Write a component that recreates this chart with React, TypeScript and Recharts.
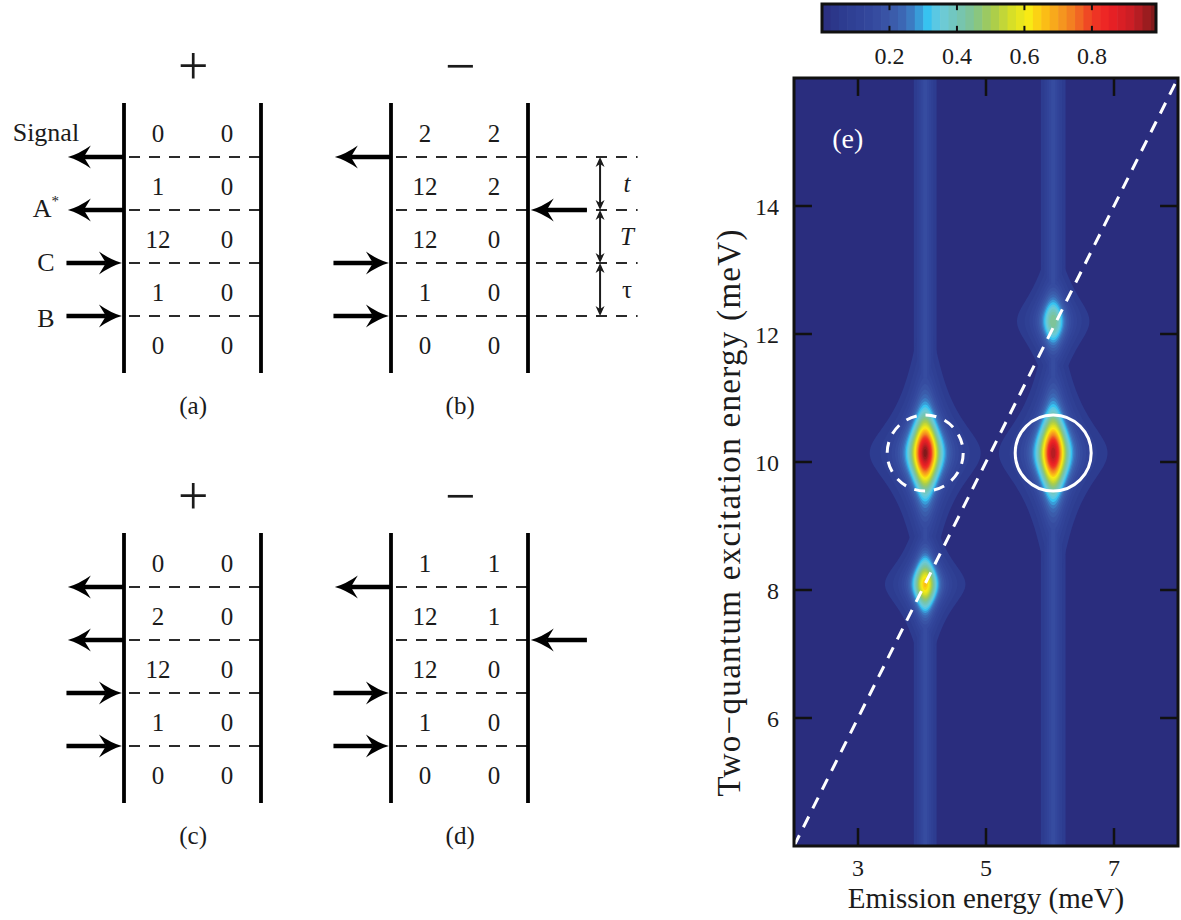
import React from "react";
import {
  ReferenceArea,
  ReferenceLine,
  Scatter,
  ScatterChart,
  XAxis,
  YAxis,
} from "recharts";

const SERIF = '"Liberation Serif", "Times New Roman", serif';
const INK = "#1b1b1b";

/* ---------- panel (e): two-quantum spectrum ---------- */

const EMISSION_TICKS = [3, 5, 7];
const EXCITATION_TICKS = [6, 8, 10, 12, 14];
const COLORBAR_TICKS = [0.2, 0.4, 0.6, 0.8];

// peaks: centre (meV), height on the colour scale, half widths (meV)
const PEAK_X = [4.05, 6.05, 4.05, 6.05];
const PEAK_Y = [10.14, 10.14, 8.09, 12.2];
const PEAK_AMP = [0.99, 0.95, 0.66, 0.45];
const PEAK_WX = [0.2, 0.2, 0.18, 0.2];
const PEAK_WY = [0.5, 0.52, 0.38, 0.42];

// faint streaks running the full height along both emission lines
const STREAK_X = [4.05, 6.05];
const STREAK_AMP = [0.16, 0.16];
const STREAK_WX = [0.12, 0.13];

// colour scale
const CMAP_AT = [0, 0.05, 0.15, 0.2, 0.25, 0.28, 0.31, 0.35, 0.4, 0.45, 0.5, 0.56, 0.61, 0.65, 0.7, 0.75, 0.8, 0.85, 0.92, 0.99];
const CMAP_HEX = [
  "#2a2d7e", "#2c3a8e", "#34499e", "#3a56a7", "#3d6db8", "#3b8fd0", "#34c1f1", "#6bcbdd",
  "#73c5b8", "#82c48e", "#a3ca53", "#d5de28", "#f8ec15", "#fcc614", "#f6a01e", "#f27522",
  "#ee3a24", "#ec2125", "#c81e25", "#7e1a1b",
];

const LEVEL_STEP = 0.025;
const BAR_STEPS = Array.from({ length: 40 }, (_, i) => +(LEVEL_STEP * i).toFixed(3));
const LEVELS = BAR_STEPS.filter((l) => l >= 0.05);

// plot boxes in px
const PLOT_W = 384;
const PLOT_H = 768;
const PX_X = PLOT_W / 6;
const PX_Y = PLOT_H / 12;
const TICK = 0.28;
const BAR_W = 334;
const BAR_H = 28;
const BAR_MAX = 0.99;

function hex(h: string) {
  const n = parseInt(h.slice(1), 16);
  return [(n >> 16) & 255, (n >> 8) & 255, n & 255];
}

function colorAt(v: number) {
  const i = CMAP_AT.findIndex((p) => p >= v);
  if (i === 0) return CMAP_HEX[0];
  if (i < 0) return CMAP_HEX[CMAP_HEX.length - 1];
  const t = (v - CMAP_AT[i - 1]) / (CMAP_AT[i] - CMAP_AT[i - 1]);
  const a = hex(CMAP_HEX[i - 1]);
  const b = hex(CMAP_HEX[i]);
  const c = a.map((x, k) => Math.round(x + (b[k] - x) * t));
  return `rgb(${c[0]},${c[1]},${c[2]})`;
}

// filled contour layers, lowest level first so higher ones sit on top
const layers: any[] = [{ x: 5, y: 10, kind: "bg", level: 0 }];
LEVELS.forEach((level) => {
  STREAK_X.forEach((x, i) => {
    if (STREAK_AMP[i] > level)
      layers.push({ x, y: 10, kind: "streak", level, amp: STREAK_AMP[i], wx: STREAK_WX[i] });
  });
  PEAK_X.forEach((x, i) => {
    if (PEAK_AMP[i] > level)
      layers.push({
        x,
        y: PEAK_Y[i],
        kind: "peak",
        level,
        amp: PEAK_AMP[i],
        wx: PEAK_WX[i],
        wy: PEAK_WY[i],
      });
  });
});

const marks = [
  { x: PEAK_X[0], y: PEAK_Y[0], kind: "dashed" },
  { x: PEAK_X[1], y: PEAK_Y[1], kind: "solid" },
  { x: 2.84, y: 15.03, kind: "tag" },
];
const diagonal = [
  { x: 2, y: 4 },
  { x: 8, y: 16 },
];
const barCells = BAR_STEPS.map((s) => ({ x: s, y: 0.5, level: s }));

function ContourShape(props: any) {
  const { cx, cy, payload: p } = props;
  if (p.kind === "bg")
    return <rect x={cx - PLOT_W / 2} y={cy - PLOT_H / 2} width={PLOT_W} height={PLOT_H} fill={CMAP_HEX[0]} />;
  const fill = colorAt(p.level + LEVEL_STEP / 2);
  if (p.kind === "streak") {
    const half = p.wx * Math.sqrt(p.amp / p.level - 1) * PX_X;
    return <rect x={cx - half} y={cy - PLOT_H / 2} width={2 * half} height={PLOT_H} fill={fill} />;
  }
  const r = p.amp / p.level;
  const umax = Math.sqrt(r - 1);
  const gx = p.wx * PX_X;
  const gy = p.wy * PX_Y;
  const q: [number, number][] = [];
  const n = 40;
  for (let i = 0; i <= n; i++) {
    const u = umax * Math.sin((Math.PI / 2) * (i / n));
    const v = Math.sqrt(Math.max(0, r / (1 + u * u) - 1));
    q.push([u * gx, v * gy]);
  }
  const pts = [
    ...q.map(([u, v]) => [u, -v]),
    ...[...q].reverse().map(([u, v]) => [u, v]),
    ...q.map(([u, v]) => [-u, v]),
    ...[...q].reverse().map(([u, v]) => [-u, -v]),
  ];
  const d = "M" + pts.map(([u, v]) => `${(cx + u).toFixed(2)},${(cy + v).toFixed(2)}`).join("L") + "Z";
  return <path d={d} fill={fill} />;
}

function BarCell(props: any) {
  const { cx, cy, payload } = props;
  const w = (Math.min(BAR_MAX, payload.level + LEVEL_STEP) - payload.level) * (BAR_W / BAR_MAX);
  return (
    <rect
      x={cx}
      y={cy - BAR_H / 2}
      width={w + 0.6}
      height={BAR_H}
      fill={colorAt(payload.level + LEVEL_STEP / 2)}
    />
  );
}

function MarkShape(props: any) {
  const { cx, cy, payload } = props;
  if (payload.kind === "tag")
    return (
      <text x={cx} y={cy} dy="0.27em" textAnchor="middle" fontFamily={SERIF} fontSize={28} fill="#fff">
        (e)
      </text>
    );
  return (
    <circle
      cx={cx}
      cy={cy}
      r={38}
      fill="none"
      stroke="#fff"
      strokeWidth={3}
      strokeDasharray={payload.kind === "dashed" ? "11 8.9" : undefined}
    />
  );
}

const axisTick = { fontFamily: SERIF, fontSize: 24, fill: INK };

function Spectrum() {
  return (
    <ScatterChart width={481} height={920} margin={{ top: 78, right: 3, bottom: 0, left: 0 }}>
      <XAxis
        type="number"
        dataKey="x"
        domain={[2, 8]}
        ticks={EMISSION_TICKS}
        allowDataOverflow
        height={74}
        axisLine={false}
        tickLine={false}
        tickSize={0}
        tickMargin={13}
        tick={axisTick}
      />
      <YAxis
        type="number"
        dataKey="y"
        domain={[4, 16]}
        ticks={EXCITATION_TICKS}
        allowDataOverflow
        width={94}
        axisLine={false}
        tickLine={false}
        tickSize={0}
        tickMargin={15}
        tick={axisTick}
      />
      <Scatter data={layers} shape={ContourShape} isAnimationActive={false} />
      <Scatter
        data={diagonal}
        shape={() => <g />}
        line={{ stroke: "#fff", strokeWidth: 3, strokeDasharray: "12 9" }}
        isAnimationActive={false}
      />
      <Scatter data={marks} shape={MarkShape} isAnimationActive={false} />
      <ReferenceArea x1={2} x2={8} y1={4} y2={16} fill="none" stroke="#111" strokeWidth={3} ifOverflow="visible" zIndex={900} />
      {EMISSION_TICKS.map((t) => (
        <ReferenceLine key={"b" + t} segment={[{ x: t, y: 4 }, { x: t, y: 4 + TICK }]} stroke="#111" strokeWidth={2.5} zIndex={900} />
      ))}
      {EMISSION_TICKS.map((t) => (
        <ReferenceLine key={"t" + t} segment={[{ x: t, y: 16 }, { x: t, y: 16 - TICK }]} stroke="#111" strokeWidth={2.5} zIndex={900} />
      ))}
      {EXCITATION_TICKS.map((t) => (
        <ReferenceLine key={"l" + t} segment={[{ x: 2, y: t }, { x: 2 + TICK, y: t }]} stroke="#111" strokeWidth={2.5} zIndex={900} />
      ))}
      {EXCITATION_TICKS.map((t) => (
        <ReferenceLine key={"r" + t} segment={[{ x: 8, y: t }, { x: 8 - TICK, y: t }]} stroke="#111" strokeWidth={2.5} zIndex={900} />
      ))}
    </ScatterChart>
  );
}

function ColorBar() {
  return (
    <ScatterChart width={360} height={75} margin={{ top: 4, right: 14, bottom: 0, left: 12 }}>
      <XAxis
        type="number"
        dataKey="x"
        domain={[0, BAR_MAX]}
        ticks={COLORBAR_TICKS}
        allowDataOverflow
        height={43}
        axisLine={false}
        tickLine={false}
        tickSize={0}
        tickMargin={15}
        tick={axisTick}
      />
      <YAxis type="number" dataKey="y" domain={[0, 1]} allowDataOverflow hide />
      <Scatter data={barCells} shape={BarCell} isAnimationActive={false} />
      <ReferenceArea x1={0} x2={BAR_MAX} y1={0} y2={1} fill="none" stroke="#111" strokeWidth={3} ifOverflow="visible" zIndex={900} />
      {COLORBAR_TICKS.map((t) => (
        <ReferenceLine key={"b" + t} segment={[{ x: t, y: 0 }, { x: t, y: 0.22 }]} stroke="#111" strokeWidth={2} zIndex={900} />
      ))}
      {COLORBAR_TICKS.map((t) => (
        <ReferenceLine key={"t" + t} segment={[{ x: t, y: 1 }, { x: t, y: 0.78 }]} stroke="#111" strokeWidth={2} zIndex={900} />
      ))}
    </ScatterChart>
  );
}

/* ---------- panels (a)-(d): double-sided diagrams ---------- */

// occupation (ket, bra) between interactions, top row first
const ROWS_A = [["0", "0"], ["1", "0"], ["12", "0"], ["1", "0"], ["0", "0"]];
const ROWS_B = [["2", "2"], ["12", "2"], ["12", "0"], ["1", "0"], ["0", "0"]];
const ROWS_C = [["0", "0"], ["2", "0"], ["12", "0"], ["1", "0"], ["0", "0"]];
const ROWS_D = [["1", "1"], ["12", "1"], ["12", "0"], ["1", "0"], ["0", "0"]];
// field interaction on each dashed line, top first
const ARROWS_PLUS = ["out", "out", "in", "in"];
const ARROWS_MINUS = ["out", "braIn", "in", "in"];
const FIELD_LABELS = ["Signal", "A*", "C", "B"];
const FIELD_LABEL_Y = [4.47, 3.03, 2.01, 0.95];
const DELAY_LABELS = ["t", "T", "τ"];

const DIAG_H = 430;
const LINE0_PX = 124;
const UNIT_X = 137;
const ROW_PX = 53;
const BASE_PX = 316;
const Y_MIN = 1 - (DIAG_H - BASE_PX) / ROW_PX;
const Y_MAX = 1 + BASE_PX / ROW_PX;

const ARROW_GEOM: Record<string, { tip: number; from: number }> = {
  out: { tip: -0.41, from: 0 },
  in: { tip: -0.015, from: -0.42 },
  braIn: { tip: 1.02, from: 1.43 },
};

function TextShape(props: any) {
  const { cx, cy, payload: p } = props;
  const size = p.kind === "sign" ? 54 : p.kind === "label" ? 26 : p.kind === "tag" ? 25 : 25;
  const dy = p.kind === "num" ? "0.44em" : p.kind === "label" ? "0.33em" : "0.26em";
  if (p.text === "A*")
    return (
      <text x={cx} y={cy} dy={dy} textAnchor="middle" fontFamily={SERIF} fontSize={size} fill={INK}>
        A<tspan fontSize={15} dy={-11}>*</tspan>
      </text>
    );
  return (
    <text x={cx} y={cy} dy={dy} textAnchor="middle" fontFamily={SERIF} fontSize={size} fill={INK}>
      {p.text}
    </text>
  );
}

function ArrowShape(props: any) {
  const { cx, cy, payload: p } = props;
  const s = p.from > p.x ? 1 : -1;
  const tail = cx + (p.from - p.x) * UNIT_X;
  const head = 23;
  const half = 11.5;
  const notch = 16;
  const d =
    `M${cx},${cy} Q${cx + s * 11},${cy - 3} ${cx + s * head},${cy - half} ` +
    `L${cx + s * notch},${cy} L${cx + s * head},${cy + half} Q${cx + s * 11},${cy + 3} ${cx},${cy}Z`;
  return (
    <g>
      <line x1={cx + s * notch} y1={cy} x2={tail} y2={cy} stroke="#000" strokeWidth={4.5} />
      <path d={d} fill="#000" />
    </g>
  );
}

function SpanShape(props: any) {
  const { cx, cy, payload } = props;
  const top = cy - ROW_PX / 2;
  const bot = cy + ROW_PX / 2;
  return (
    <g>
      <line x1={cx} y1={top + 3} x2={cx} y2={bot - 3} stroke={INK} strokeWidth={2} />
      <path d={`M${cx},${top} L${cx - 4.5},${top + 10} L${cx},${top + 7} L${cx + 4.5},${top + 10}Z`} fill={INK} />
      <path d={`M${cx},${bot} L${cx - 4.5},${bot - 10} L${cx},${bot - 7} L${cx + 4.5},${bot - 10}Z`} fill={INK} />
      <text
        x={cx + 27}
        y={cy}
        dy="0.33em"
        textAnchor="middle"
        fontFamily={SERIF}
        fontSize={25}
        fontStyle={payload.text === "τ" ? "normal" : "italic"}
        fill={INK}
      >
        {payload.text}
      </text>
    </g>
  );
}

function Diagram({
  left,
  top,
  width,
  rows,
  arrows,
  sign,
  tag,
  withLabels,
  withDelays,
}: {
  left: number;
  top: number;
  width: number;
  rows: string[][];
  arrows: string[];
  sign: string;
  tag: string;
  withLabels?: boolean;
  withDelays?: boolean;
}) {
  const xMin = -LINE0_PX / UNIT_X;
  const xMax = (width - LINE0_PX) / UNIT_X;
  const dashEnd = withDelays ? 1.8 : 1;
  const lines = [4, 3, 2, 1];

  const texts: any[] = [];
  rows.forEach((r, i) => {
    texts.push({ x: 0.248, y: 4.5 - i, text: r[0], kind: "num" });
    texts.push({ x: 0.752, y: 4.5 - i, text: r[1], kind: "num" });
  });
  texts.push({ x: 0.505, y: 1 + (BASE_PX - 70) / ROW_PX, text: sign, kind: "sign" });
  texts.push({ x: 0.505, y: 1 - (407 - BASE_PX) / ROW_PX, text: tag, kind: "tag" });
  if (withLabels)
    FIELD_LABELS.forEach((t, i) => texts.push({ x: -0.57, y: FIELD_LABEL_Y[i], text: t, kind: "label" }));

  const arrowPts = arrows.map((a, i) => ({ x: ARROW_GEOM[a].tip, from: ARROW_GEOM[a].from, y: lines[i] }));
  const spans = withDelays ? DELAY_LABELS.map((t, i) => ({ x: 1.526, y: 3.5 - i, text: t })) : [];

  return (
    <div style={{ position: "absolute", left, top }}>
      <ScatterChart width={width} height={DIAG_H} margin={{ top: 0, right: 0, bottom: 0, left: 0 }}>
        <XAxis type="number" dataKey="x" domain={[xMin, xMax]} allowDataOverflow hide />
        <YAxis type="number" dataKey="y" domain={[Y_MIN, Y_MAX]} allowDataOverflow hide />
        {lines.map((k) => (
          <ReferenceLine
            key={"d" + k}
            segment={[{ x: 0, y: k }, { x: dashEnd, y: k }]}
            stroke="#2a2a2a"
            strokeWidth={2}
            strokeDasharray="11 9"
            strokeDashoffset={-5}
            ifOverflow="visible"
          />
        ))}
        <ReferenceLine segment={[{ x: 0, y: -0.075 }, { x: 0, y: 5.02 }]} stroke="#000" strokeWidth={3.8} ifOverflow="visible" />
        <ReferenceLine segment={[{ x: 1, y: -0.075 }, { x: 1, y: 5.02 }]} stroke="#000" strokeWidth={3.8} ifOverflow="visible" />
        <Scatter data={texts} shape={TextShape} isAnimationActive={false} />
        <Scatter data={arrowPts} shape={ArrowShape} isAnimationActive={false} />
        {withDelays && <Scatter data={spans} shape={SpanShape} isAnimationActive={false} />}
      </ScatterChart>
    </div>
  );
}

function AxisTitles() {
  return (
    <svg
      width={1181}
      height={920}
      style={{ position: "absolute", left: 0, top: 0, pointerEvents: "none" }}
    >
      <text x={986} y={908} textAnchor="middle" fontFamily={SERIF} fontSize={29} fill={INK}>
        Emission energy (meV)
      </text>
      <text
        x={729}
        y={513}
        transform="rotate(-90 729 513)"
        textAnchor="middle"
        dominantBaseline="central"
        fontFamily={SERIF}
        fontSize={33}
        fill={INK}
        textLength={567}
        lengthAdjust="spacing"
      >
        Two−quantum excitation energy (meV)
      </text>
    </svg>
  );
}

export default function App() {
  return (
    <div style={{ position: "absolute", left: 0, top: 0, width: 1181, height: 920, background: "#fff" }}>
      <Diagram left={0} top={0} width={267} rows={ROWS_A} arrows={ARROWS_PLUS} sign="+" tag="(a)" withLabels />
      <Diagram left={267} top={0} width={414} rows={ROWS_B} arrows={ARROWS_MINUS} sign="−" tag="(b)" withDelays />
      <Diagram left={0} top={430} width={267} rows={ROWS_C} arrows={ARROWS_PLUS} sign="+" tag="(c)" />
      <Diagram left={267} top={430} width={414} rows={ROWS_D} arrows={ARROWS_MINUS} sign="−" tag="(d)" />
      <div style={{ position: "absolute", left: 700, top: 0 }}>
        <Spectrum />
      </div>
      <div style={{ position: "absolute", left: 810, top: 0 }}>
        <ColorBar />
      </div>
      <AxisTitles />
    </div>
  );
}
